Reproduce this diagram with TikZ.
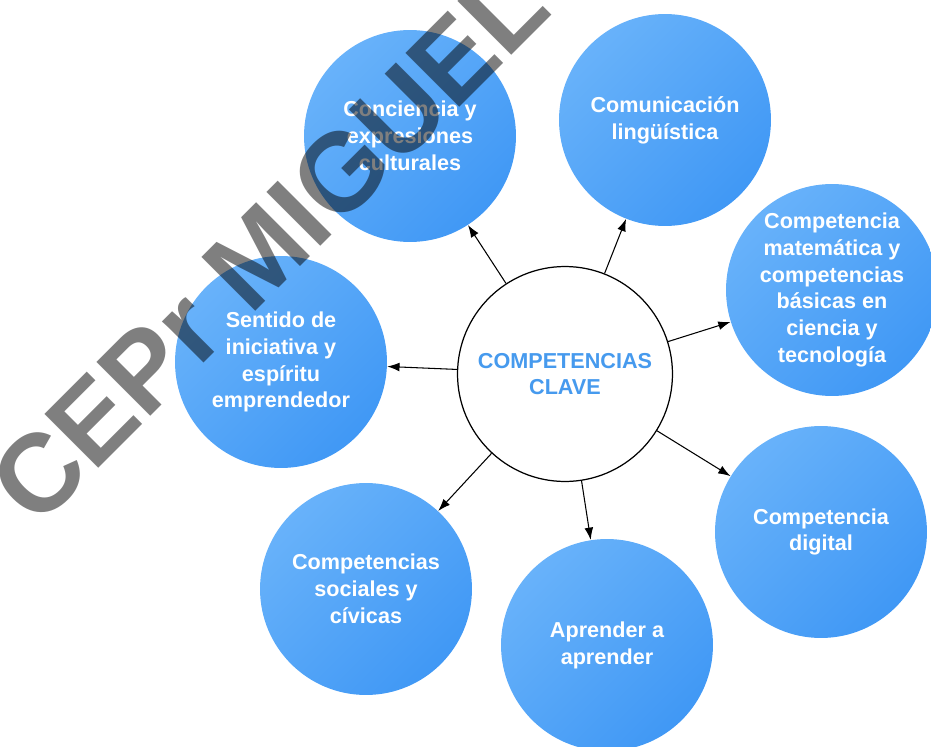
\documentclass[tikz,border=0pt]{standalone}
\usepackage{fontspec}
\setmainfont{Liberation Sans}
\usetikzlibrary{arrows.meta}
\definecolor{azulclaro}{RGB}{104,178,250}
\definecolor{azuloscuro}{RGB}{64,152,245}
\definecolor{azultexto}{RGB}{70,154,238}
\tikzset{
  comp/.style={circle, minimum size=4.24cm, inner sep=0pt, align=center,
    left color=azulclaro, right color=azuloscuro, shading angle=45,
    text=white, font=\bfseries\fontsize{12.3}{15.3}\selectfont},
  centro/.style={circle, draw=black, line width=0.7pt, fill=white,
    minimum size=4.3cm, inner sep=0pt, align=center,
    text=azultexto, font=\bfseries\fontsize{12.3}{15.3}\selectfont},
  marca/.style={text=black, text opacity=0.5, inner sep=0pt,
    font=\bfseries\fontsize{63}{63}\selectfont}
}
\newcommand{\competencia}[3]{%
 \node[comp] ({#1}) at ({#2}) {#3};%
}

\begin{document}
\begin{tikzpicture}[x=0.02cm, y=-0.02cm, >={Latex[length=7pt,width=5pt]}]
   \useasboundingbox (0,0) rectangle (931,747);
   \node[centro] (cc) at (565,374) {COMPETENCIAS\\CLAVE};
   \competencia{cult}{410,136}{Conciencia y\\expresiones\\culturales};
   \competencia{ling}{665,120}{Comunicación\\lingüística};
   \competencia{mate}{832,290}{Competencia\\matemática y\\competencias\\básicas en\\ciencia y\\tecnología};
   \competencia{digi}{821,532}{Competencia\\digital};
   \competencia{apre}{607,645}{Aprender a\\aprender};
   \competencia{soci}{366,589}{Competencias\\sociales y\\cívicas};
   \competencia{inic}{281,362}{Sentido de\\iniciativa y\\espíritu\\emprendedor};
   \path[->, line width=0.6pt] (cc) edge (cult) edge (ling) edge (mate)
     edge (digi) edge (apre) edge (soci) edge (inic);
   % sello
   \node[marca, rotate=45, anchor=base west] (sello) at (37,530) {CEPr MIGUEL};
\end{tikzpicture}
\end{document}
